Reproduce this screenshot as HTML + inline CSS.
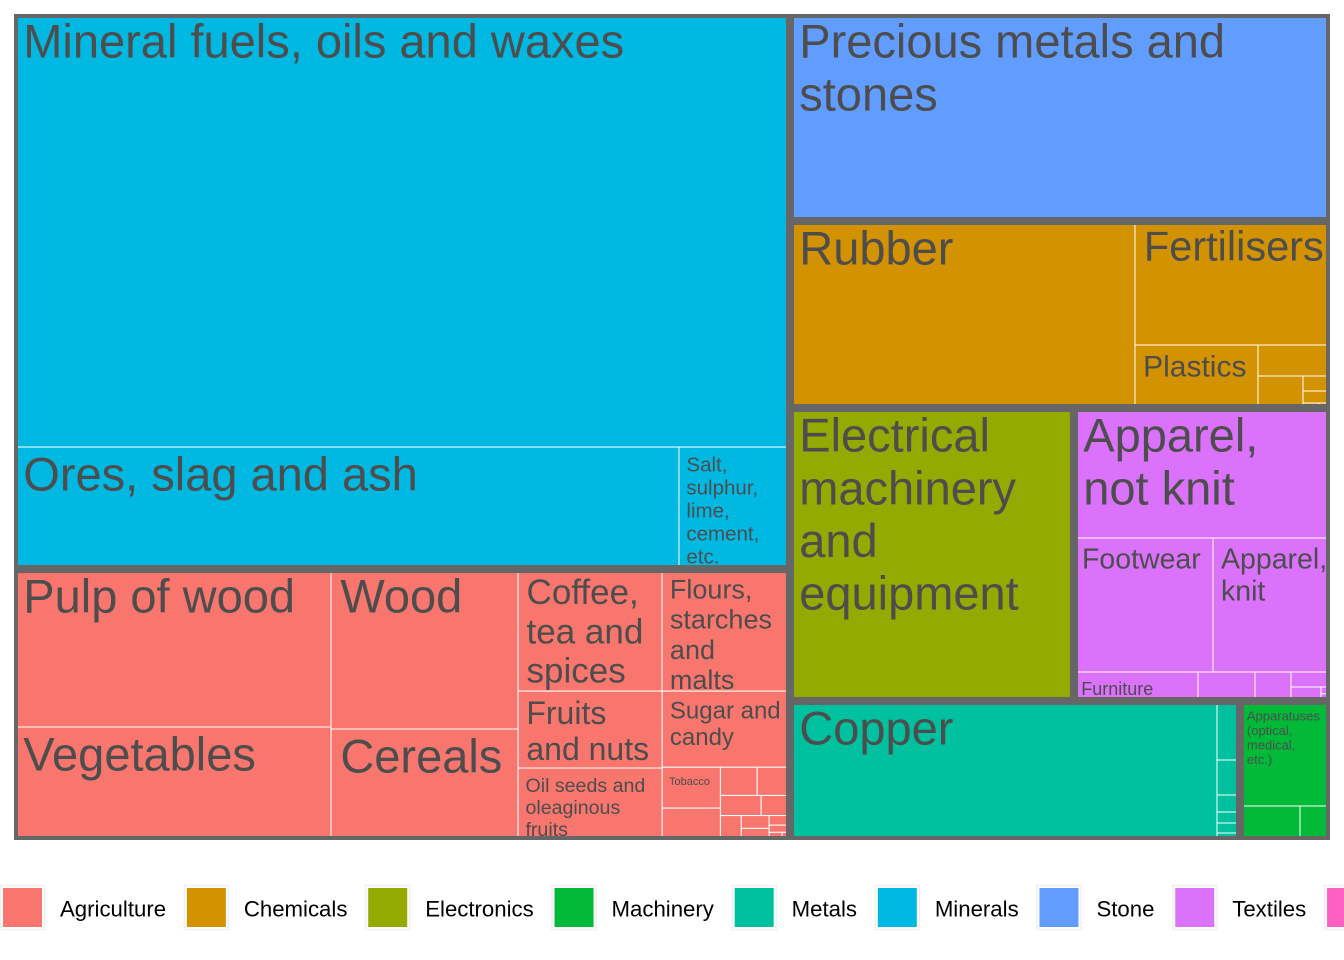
<!DOCTYPE html>
<html><head><meta charset="utf-8"><style>
html,body{margin:0;padding:0;background:#fff;}
svg{display:block;font-family:"Liberation Sans",Arial,sans-serif;}
</style></head><body>
<svg id="chart" width="1344" height="960" viewBox="0 0 1344 960" xmlns="http://www.w3.org/2000/svg">
<g id="tiles"></g>
<g id="borders"></g>
<g id="labels"></g>
<g id="legend"></g>
</svg>
<script>
const groups = ["Agriculture","Chemicals","Electronics","Machinery","Metals","Minerals","Stone","Textiles","Transport"];
const groupColors = ["#F8766D","#D39200","#93AA00","#00BA38","#00C19F","#00B9E3","#619CFF","#DB72FB","#FF61C3"];
const tileGroups = ["Minerals","Minerals","Minerals",
 "Agriculture","Agriculture","Agriculture","Agriculture","Agriculture","Agriculture","Agriculture","Agriculture","Agriculture","Agriculture","Agriculture","Agriculture","Agriculture","Agriculture","Agriculture","Agriculture","Agriculture","Agriculture","Agriculture","Agriculture","Agriculture","Agriculture",
 "Stone",
 "Chemicals","Chemicals","Chemicals","Chemicals","Chemicals","Chemicals","Chemicals","Chemicals","Chemicals",
 "Electronics",
 "Textiles","Textiles","Textiles","Textiles","Textiles","Textiles","Textiles","Textiles","Textiles","Textiles","Textiles",
 "Metals","Metals","Metals","Metals","Metals","Metals","Metals",
 "Machinery","Machinery","Machinery"];
const tileLabels = ["Mineral fuels, oils and waxes","Ores, slag and ash","Salt,\nsulphur,\nlime,\ncement,\netc.",
 "Pulp of wood","Vegetables","Wood","Cereals","Coffee,\ntea and\nspices","Fruits\nand nuts","Oil seeds and\noleaginous\nfruits","Flours,\nstarches\nand\nmalts","Sugar and\ncandy","Tobacco","","","","","","","","","","","","",
 "Precious metals and\nstones",
 "Rubber","Fertilisers","Plastics","","","","","","",
 "Electrical\nmachinery\nand\nequipment",
 "Apparel,\nnot knit","Footwear","Apparel,\nknit","Furniture","","","","","","","",
 "Copper","","","","","","",
 "Apparatuses\n(optical,\nmedical,\netc.)","",""];
const tileValues = [336008,81130,13542,
 50086,35821,29920,20757,17568,11088,10368,15616,9728,2378,1856,1036,924,820,580,510,357,323,200,150,100,60,
 111780,
 64515,24180,7749,2232,1440,405,324,80,55,
 83212,
 33280,18626,15678,3596,1653,1044,585,420,60,40,26,
 59353,1357,805,391,253,230,161,
 9450,2040,1020];
const labelSizes = [47,47,20.5, 47,47,47,47,35,32,19.6,27,24,11,0,0,0,0,0,0,0,0,0,0,0,0, 47, 47,41.5,30,0,0,0,0,0,0, 47, 47,28.5,28.5,18,0,0,0,0,0,0,0, 47,0,0,0,0,0,0, 13,0,0];

const PX=14, PY=14, PW=1316, PH=826;
const NS="http://www.w3.org/2000/svg";
function worst(row,side){const s=row.reduce((a,b)=>a+b.v,0);let w=0;for(const r of row){const a=side*side*r.v/(s*s);w=Math.max(w,a,1/a);}return w;}
function squarify(items,rect){
  items=items.slice().sort((a,b)=>b.v-a.v);
  const total=items.reduce((a,b)=>a+b.v,0);
  const scale=rect.w*rect.h/total;
  items=items.map(it=>({...it,v:it.v*scale}));
  let {x,y,w,h}=rect;const out=[];
  while(items.length){
    const side=Math.min(w,h);let row=[items.shift()];
    while(items.length&&worst(row.concat([items[0]]),side)<=worst(row,side)){row.push(items.shift());}
    const s=row.reduce((a,b)=>a+b.v,0);
    if(w<h){const rh=s/w;let cx=x;for(const r of row){const rw=r.v/rh;out.push({...r,x:cx,y:y,w:rw,h:rh});cx+=rw;}y+=rh;h-=rh;}
    else{const rw=s/h;let cy=y;for(const r of row){const rh2=r.v/rw;out.push({...r,x:x,y:cy,w:rw,h:rh2});cy+=rh2;}x+=rw;w-=rw;}
  }
  return out;
}
const sx=u=>PX+u*PW, sy=u=>PY+u*PH;
const gItems=[];
groups.forEach(g=>{let v=0;tileValues.forEach((tv,i)=>{if(tileGroups[i]===g)v+=tv;});if(v>0)gItems.push({g:g,v:v});});
const gRects=squarify(gItems,{x:0,y:0,w:1,h:1});
const tilesG=document.getElementById('tiles'),bordG=document.getElementById('borders'),labG=document.getElementById('labels');
gRects.forEach(gr=>{
  const col=groupColors[groups.indexOf(gr.g)];
  const items=[];tileValues.forEach((tv,i)=>{if(tileGroups[i]===gr.g)items.push({i:i,v:tv});});
  const sub=squarify(items,{x:gr.x,y:gr.y,w:gr.w,h:gr.h});
  sub.forEach(t=>{
    const lbl=tileLabels[t.i]||"";
    const r=document.createElementNS(NS,'rect');
    r.setAttribute('x',sx(t.x));r.setAttribute('y',sy(t.y));r.setAttribute('width',t.w*PW);r.setAttribute('height',t.h*PH);
    r.setAttribute('fill',col);r.setAttribute('stroke','#fff');r.setAttribute('stroke-width','1');
    
    
    tilesG.appendChild(r);
    const fs=labelSizes[t.i]||0;
    if(lbl&&fs>0){
      const tx=document.createElementNS(NS,'text');
      tx.setAttribute('font-size',fs);tx.setAttribute('fill','#4d4d4d');
      
      
      const x0=sx(t.x)+6+0.07*fs, y0=sy(t.y)+10+0.716*fs;
      lbl.split('\n').forEach((ln,k)=>{const ts=document.createElementNS(NS,'tspan');ts.setAttribute('x',x0);ts.setAttribute('y',y0+k*fs*1.12);ts.textContent=ln;tx.appendChild(ts);});
      labG.appendChild(tx);
    }
  });
  const b=document.createElementNS(NS,'rect');
  b.setAttribute('x',sx(gr.x));b.setAttribute('y',sy(gr.y));b.setAttribute('width',gr.w*PW);b.setAttribute('height',gr.h*PH);
  b.setAttribute('fill','none');b.setAttribute('stroke','#666666');b.setAttribute('stroke-width','8');
  
  
  bordG.appendChild(b);
});
[[0,0,1344,14],[0,840,1344,6],[0,0,14,846],[1330,0,14,846]].forEach(a=>{
  const m=document.createElementNS(NS,'rect');m.setAttribute('x',a[0]);m.setAttribute('y',a[1]);m.setAttribute('width',a[2]);m.setAttribute('height',a[3]);m.setAttribute('fill','#fff');
  
  
  bordG.appendChild(m);
});
const legG=document.getElementById('legend');
let ctx=null;
try{ctx=document.createElement('canvas').getContext('2d');ctx.font='22.2px "Liberation Sans", Arial, sans-serif';}catch(e){ctx=null;}
let lx=3;
groups.forEach((g,i)=>{
  const box=document.createElementNS(NS,'rect');
  box.setAttribute('x',lx-2.5);box.setAttribute('y',885.5);box.setAttribute('width',44);box.setAttribute('height',44);box.setAttribute('fill','#fff');box.setAttribute('stroke','#f0f0f0');box.setAttribute('stroke-width','1.5');
  
  
  legG.appendChild(box);
  const k=document.createElementNS(NS,'rect');
  k.setAttribute('x',lx);k.setAttribute('y',888);k.setAttribute('width',39);k.setAttribute('height',39);k.setAttribute('fill',groupColors[i]);
  
  
  legG.appendChild(k);
  const t=document.createElementNS(NS,'text');
  t.setAttribute('x',lx+57);t.setAttribute('y',916.5);t.setAttribute('font-size','22.2');t.setAttribute('fill','#000');t.textContent=g;
  
  
  legG.appendChild(t);
  let tw=ctx?ctx.measureText(g).width:0;
  if(!tw){try{tw=t.getComputedTextLength();}catch(e){tw=g.length*11;}}
  lx=lx+57+tw+20.8;
});
</script>
</body></html>
